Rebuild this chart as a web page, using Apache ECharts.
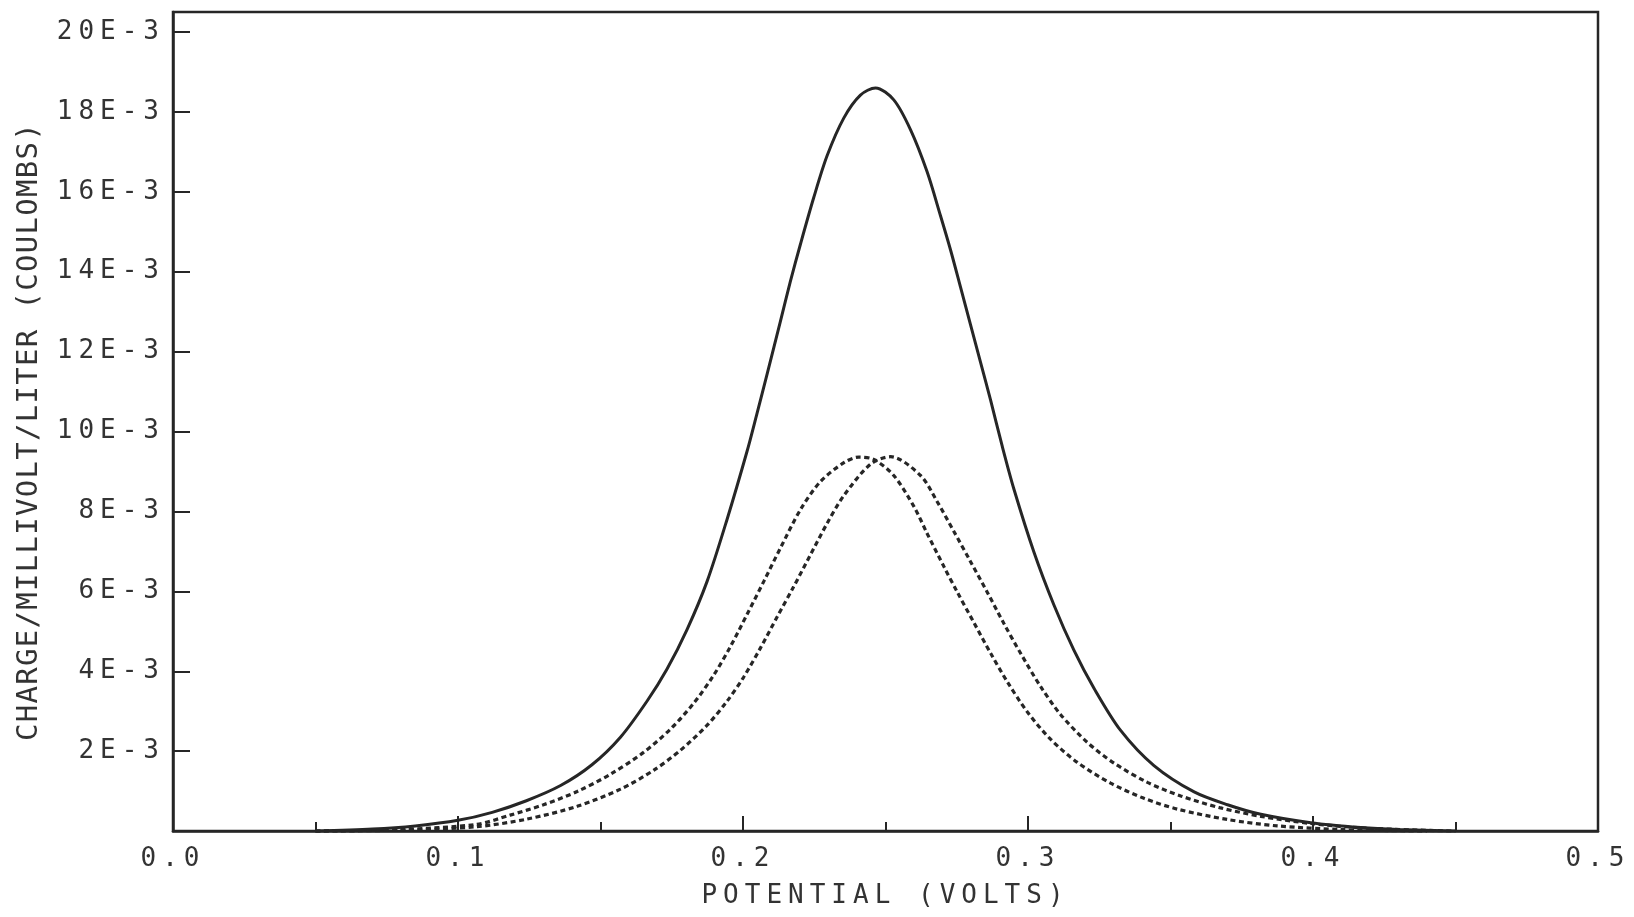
<!DOCTYPE html>
<html>
<head>
<meta charset="utf-8">
<script src="https://cdn.jsdelivr.net/npm/echarts@6/dist/echarts.min.js"></script>
<style>
  html, body { margin: 0; padding: 0; background: #fff; }
  #chart { width: 1634px; height: 917px; }
</style>
</head>
<body>
<div id="chart"></div>
<script>
// Axis ranges and labels
const potentialRange = [0.0, 0.5];       // volts
const potentialStep = 0.1;
const chargeRange = [0, 0.0205];         // coulombs per millivolt per litre
const chargeStep = 0.002;
const xTitle = 'POTENTIAL (VOLTS)';
const yTitle = 'CHARGE/MILLIVOLT/LITER (COULOMBS)';

// Total charge curve: [potential V, charge E-3]
const totalCurve = [
  [0.050, 0.00], [0.070, 0.05], [0.085, 0.13], [0.100, 0.27], [0.112, 0.47],
  [0.124, 0.76], [0.136, 1.14], [0.147, 1.66], [0.157, 2.35], [0.1663, 3.25],
  [0.1733, 4.05], [0.1804, 5.05], [0.1874, 6.25], [0.1944, 7.80], [0.2014, 9.50],
  [0.2049, 10.45], [0.2085, 11.45], [0.2131, 12.75], [0.2166, 13.75], [0.2202, 14.70],
  [0.2248, 15.85], [0.2295, 16.90], [0.2354, 17.85], [0.2412, 18.42], [0.2465, 18.60],
  [0.2529, 18.30], [0.2588, 17.55], [0.2646, 16.50], [0.2693, 15.40], [0.2728, 14.55],
  [0.2763, 13.62], [0.2798, 12.68], [0.2834, 11.72], [0.2869, 10.78], [0.2910, 9.62],
  [0.2951, 8.55], [0.3021, 6.98], [0.3091, 5.66], [0.3161, 4.53], [0.3232, 3.57],
  [0.3325, 2.52], [0.3442, 1.64], [0.3583, 0.98], [0.3700, 0.66], [0.3817, 0.42],
  [0.3992, 0.21], [0.4168, 0.09], [0.430, 0.04], [0.450, 0.00]
];

// First component (lower peak potential)
const componentA = [
  [0.050, 0.00], [0.080, 0.04], [0.1066, 0.17], [0.1183, 0.40], [0.1300, 0.66],
  [0.1418, 0.99], [0.1534, 1.42], [0.1651, 1.97], [0.1745, 2.55], [0.1827, 3.20],
  [0.1897, 3.90], [0.1956, 4.62], [0.2014, 5.42], [0.2073, 6.25], [0.2131, 7.08],
  [0.2202, 8.05], [0.2272, 8.75], [0.2354, 9.22], [0.2406, 9.36], [0.2459, 9.30],
  [0.2529, 8.90], [0.2600, 8.12], [0.2646, 7.45], [0.2705, 6.62], [0.2752, 5.98],
  [0.2810, 5.22], [0.2869, 4.45], [0.2927, 3.74], [0.2998, 2.98], [0.3079, 2.30],
  [0.3173, 1.72], [0.3290, 1.20], [0.3407, 0.82], [0.3524, 0.55], [0.3700, 0.29],
  [0.3875, 0.13], [0.410, 0.04], [0.440, 0.00]
];

// Second component (higher peak potential)
const componentB = [
  [0.050, 0.00], [0.085, 0.03], [0.1066, 0.11], [0.1242, 0.30], [0.1418, 0.62],
  [0.1570, 1.05], [0.1686, 1.52], [0.1780, 2.02], [0.1874, 2.65], [0.1944, 3.25],
  [0.2002, 3.85], [0.2061, 4.58], [0.2119, 5.35], [0.2178, 6.12], [0.2237, 6.92],
  [0.2295, 7.70], [0.2354, 8.40], [0.2447, 9.18], [0.2518, 9.37], [0.2623, 8.90],
  [0.2681, 8.25], [0.2740, 7.50], [0.2798, 6.75], [0.2857, 5.98], [0.2915, 5.20],
  [0.2974, 4.45], [0.3044, 3.62], [0.3114, 2.92], [0.3208, 2.22], [0.3302, 1.70],
  [0.3419, 1.22], [0.3536, 0.88], [0.3676, 0.58], [0.3817, 0.37], [0.3992, 0.19],
  [0.420, 0.07], [0.450, 0.00]
];

// Plotter-style lettering: widen the character pitch of canvas text
(function () {
  const P = CanvasRenderingContext2D.prototype;
  const pitch = f => (/29px/.test(f) ? '1.3px' : '6px');
  const fill = P.fillText, measure = P.measureText;
  P.fillText = function (t, x, y, m) {
    const s = this.letterSpacing;
    this.letterSpacing = pitch(this.font);
    const r = m === undefined ? fill.call(this, t, x, y) : fill.call(this, t, x, y, m);
    this.letterSpacing = s;
    return r;
  };
  P.measureText = function (t) {
    const s = this.letterSpacing;
    this.letterSpacing = pitch(this.font);
    const r = measure.call(this, t);
    this.letterSpacing = s;
    return r;
  };
})();

const toCoulombs = pts => pts.map(([x, y]) => [x, y / 1000]);
const ink = '#262626';
const font = 'DejaVu Sans Mono';

const chart = echarts.init(document.getElementById('chart'), null, { renderer: 'canvas' });
chart.setOption({
  animation: false,
  backgroundColor: '#ffffff',
  grid: {
    left: 173, right: 36, top: 12, bottom: 68,
    show: true, borderColor: ink, borderWidth: 2.5, backgroundColor: 'transparent'
  },
  xAxis: {
    type: 'value',
    min: potentialRange[0], max: potentialRange[1], interval: potentialStep,
    name: xTitle, nameLocation: 'middle', nameGap: 44,
    nameTextStyle: { fontFamily: font, fontSize: 26, color: '#333' },
    axisLine: { show: true, lineStyle: { color: ink, width: 2.5 } },
    axisTick: { show: true, inside: true, length: 15, lineStyle: { color: ink, width: 2 } },
    minorTick: { show: true, splitNumber: 2, length: 9, lineStyle: { color: ink, width: 2 } },
    splitLine: { show: false },
    axisLabel: {
      fontFamily: font, fontSize: 26, color: '#333', margin: 12,
      formatter: v => v.toFixed(1)
    }
  },
  yAxis: {
    type: 'value',
    min: chargeRange[0], max: chargeRange[1], interval: chargeStep,
    name: yTitle, nameLocation: 'middle', nameGap: 128, nameRotate: 90,
    nameTextStyle: { fontFamily: font, fontSize: 29, color: '#333', padding: [0, 20, 0, 0] },
    axisLine: { show: true, lineStyle: { color: ink, width: 2.5 } },
    axisTick: { show: true, inside: true, length: 17, lineStyle: { color: ink, width: 2 } },
    splitLine: { show: false },
    axisLabel: {
      fontFamily: font, fontSize: 26, color: '#333', margin: 8,
      showMinLabel: false, showMaxLabel: false,
      formatter: v => {
        const k = v / chargeStep;
        if (v === 0 || Math.abs(k - Math.round(k)) > 1e-6) return '';
        return Math.round(v * 1000) + 'E-3';
      }
    }
  },
  series: [
    {
      name: 'Total', type: 'line', data: toCoulombs(totalCurve),
      showSymbol: false, smooth: 0.3, z: 3,
      lineStyle: { color: ink, width: 3 }
    },
    {
      name: 'Component 1', type: 'line', data: toCoulombs(componentA),
      showSymbol: false, smooth: 0.3, z: 2,
      lineStyle: { color: ink, width: 3.2, type: [5, 3.5], cap: 'butt' }
    },
    {
      name: 'Component 2', type: 'line', data: toCoulombs(componentB),
      showSymbol: false, smooth: 0.3, z: 2,
      lineStyle: { color: ink, width: 3.2, type: [5, 3.5], cap: 'butt' }
    }
  ]
});
</script>
</body>
</html>
